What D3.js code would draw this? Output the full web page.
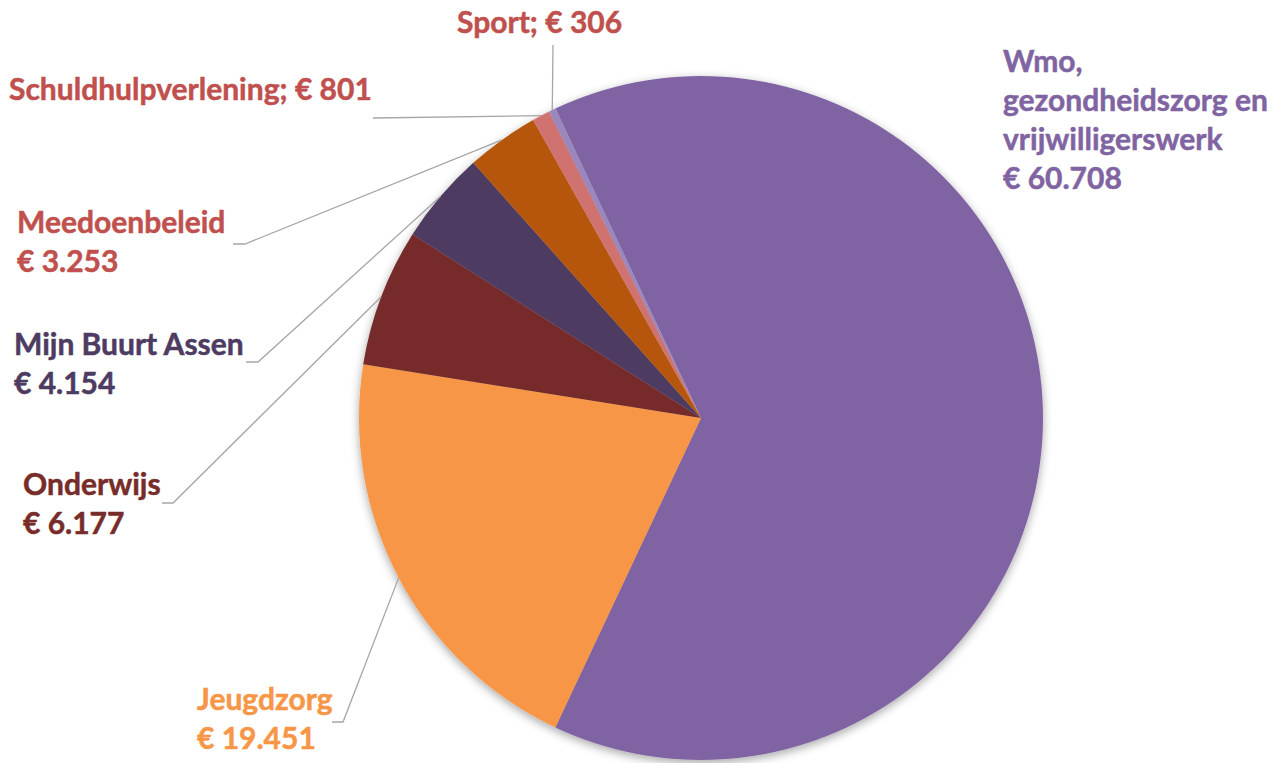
<!DOCTYPE html>
<html>
<head>
<meta charset="utf-8">
<script src="https://cdn.jsdelivr.net/npm/d3@7"></script>
<style>
  body { margin: 0; background: #fff; }
  text { font-family: Lato, "Open Sans", sans-serif; font-weight: 700; }
</style>
</head>
<body>
<svg class="chart"></svg>
<script>
const categories = ['Wmo, gezondheidszorg en vrijwilligerswerk', 'Jeugdzorg', 'Onderwijs',
  'Mijn Buurt Assen', 'Meedoenbeleid', 'Schuldhulpverlening', 'Sport'];
const values = [60708, 19451, 6177, 4154, 3253, 801, 306];
const sliceColors = ['#8064A2', '#F79646', '#772C2A', '#4D3B62', '#B65708', '#D07370', '#9A87BD'];
const textColors = ['#8064A2', '#F79646', '#772C2A', '#4D3B62', '#C0504D', '#C0504D', '#C0504D'];

// label lines, as Excel wrapped them (value line added below)
const labelLines = [
  ['Wmo,', 'gezondheidszorg en', 'vrijwilligerswerk'],
  ['Jeugdzorg'], ['Onderwijs'], ['Mijn Buurt Assen'], ['Meedoenbeleid'],
  ['Schuldhulpverlening; '], ['Sport; ']
];

const width = 1280;
const height = 763;
const cx = 701, cy = 418, radius = 342;
const lineH = 39;
const fontSize = 30;

// where each label block sits (left x, first baseline) and where the leader line bends
const labelPos = [
  { x: 1003, y: 72, leader: null },
  { x: 197, y: 710, bend: [343, 722], end: [332, 722] },
  { x: 23, y: 495, bend: [173, 503], end: [162, 503] },
  { x: 14, y: 355, bend: [258, 362], end: [246, 362] },
  { x: 17, y: 233, bend: [245, 244], end: [233, 244] },
  { x: 9, y: 100, bend: null, end: [373, 118] },
  { x: 457, y: 33, bend: null, end: [553, 45] }
];

const euro = d3.formatLocale({ decimal: ',', thousands: '.', grouping: [3], currency: ['€ ', ''] });
const fmt = v => '€ ' + euro.format(',')(v);

const svg = d3.select('.chart').attr('width', width).attr('height', height);

const defs = svg.append('defs');
defs.append('filter')
  .attr('id', 'shadow')
  .attr('x', '-10%').attr('y', '-10%').attr('width', '120%').attr('height', '120%')
  .append('feDropShadow')
  .attr('dx', 0).attr('dy', 3)
  .attr('stdDeviation', 5)
  .attr('flood-color', '#000')
  .attr('flood-opacity', 0.35);

const startA = -25.2 * Math.PI / 180;
const pie = d3.pie().sort(null).startAngle(startA).endAngle(startA + 2 * Math.PI);
const arcs = pie(values);
const arc = d3.arc().innerRadius(0).outerRadius(radius);

const g = svg.append('g').attr('transform', `translate(${cx}, ${cy})`);

g.append('g')
  .attr('filter', 'url(#shadow)')
  .selectAll('path')
  .data(arcs)
  .enter()
  .append('path')
  .attr('d', arc)
  .attr('fill', (d, i) => sliceColors[i]);

// leader lines from slice edge to the label
const edge = d => {
  const a = (d.startAngle + d.endAngle) / 2;
  return [cx + radius * Math.sin(a), cy - radius * Math.cos(a)];
};

arcs.forEach((d, i) => {
  const p = labelPos[i];
  if (!p.end) return;
  const pts = [edge(d)];
  if (p.bend) pts.push(p.bend);
  pts.push(p.end);
  svg.append('path')
    .attr('d', d3.line()(pts))
    .attr('fill', 'none')
    .attr('stroke', '#A6A6A6')
    .attr('stroke-width', 1.3);
});

// labels
arcs.forEach((d, i) => {
  const p = labelPos[i];
  const lines = labelLines[i].slice();
  const inline = i >= 5;
  const t = svg.append('text')
    .attr('x', p.x)
    .attr('y', p.y)
    .attr('font-size', fontSize)
    .attr('fill', textColors[i])
    .attr('stroke', textColors[i])
    .attr('stroke-width', 0.5);
  if (inline) {
    t.text(lines[0] + fmt(values[i]));
  } else {
    lines.push(fmt(values[i]));
    t.selectAll('tspan')
      .data(lines)
      .enter()
      .append('tspan')
      .attr('x', p.x)
      .attr('dy', (s, k) => k === 0 ? 0 : lineH)
      .text(s => s);
  }
});
</script>
</body>
</html>
